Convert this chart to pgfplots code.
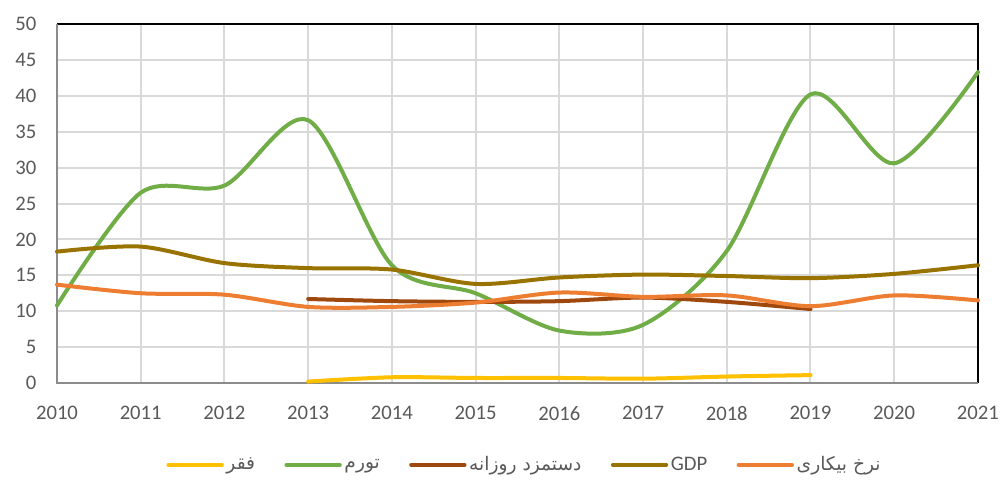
\documentclass[border=0pt]{standalone}
\usepackage{pgfplots}
\pgfplotsset{compat=1.18}
\usepackage{fontspec}
\setmainfont{Carlito}
\newfontfamily\fa[Script=Arabic]{DejaVu Sans}
\TeXXeTstate=1

\definecolor{cfaghr}{HTML}{FFC000}
\definecolor{ctavarom}{HTML}{70AD47}
\definecolor{cmozd}{HTML}{9E480E}
\definecolor{cgdp}{HTML}{997300}
\definecolor{cbikari}{HTML}{ED7D31}
\definecolor{cgrid}{HTML}{D9D9D9}
\definecolor{ctick}{HTML}{595959}

\newcommand{\fatext}[1]{{\fa\fontsize{14}{15}\selectfont\beginR #1\endR}}

\begin{document}
\begin{tikzpicture}
\path[use as bounding box] (0pt,0pt) rectangle (753pt,360pt);
\begin{axis}[
    at={(42.75pt,72.75pt)}, anchor=south west,
    width=690.75pt, height=269.25pt,
    scale only axis,
    xmin=2010, xmax=2021,
    ymin=0, ymax=50,
    xtick={2010,...,2021},
    ytick={0,5,...,50},
    xticklabel style={/pgf/number format/1000 sep={}, yshift=-14pt},
    yticklabel style={xshift=-12pt},
    /pgf/number format/assume math mode=true,
    tick label style={font=\fontsize{15.5}{16}\selectfont, text=ctick},
    grid=major,
    major grid style={cgrid, line width=1.5pt},
    tick style={draw=none},
    axis line style={draw=none},
    clip=false,
    every axis plot/.append style={smooth, tension=0.5, line width=3pt, line cap=round},
    legend columns=5,
    legend style={at={(axis description cs:0.508,-0.228)}, anchor=center,
        draw=none, fill=none, font=\fontsize{15.5}{16}\selectfont, text=ctick,
        /tikz/every even column/.append style={column sep=20pt}},
    legend image code/.code={\draw[#1, line width=3pt, sharp plot] (0pt,0pt) -- (40pt,0pt);},
]
% frame
\draw[black, line width=1.6pt] (rel axis cs:0,1) -- (rel axis cs:1,1) -- (rel axis cs:1,0);
\draw[gray!90, line width=1.8pt] (rel axis cs:0,1) -- (rel axis cs:0,0) -- (rel axis cs:1,0);

\addplot[cfaghr] coordinates {
    (2013,0.2) (2014,0.8) (2015,0.7) (2016,0.7) (2017,0.6) (2018,0.9) (2019,1.1)};
\addlegendentry{\fatext{فقر}}
\addplot[ctavarom] coordinates {
    (2010,10.8) (2011,26.5) (2012,27.5) (2013,36.6) (2014,16.4) (2015,12.5)
    (2016,7.3) (2017,8.1) (2018,18.4) (2019,40.2) (2020,30.6) (2021,43.3)};
\addlegendentry{\fatext{تورم}}
\addplot[cmozd] coordinates {
    (2013,11.7) (2014,11.4) (2015,11.3) (2016,11.4) (2017,11.9) (2018,11.3) (2019,10.3)};
\addlegendentry{\fatext{دستمزد روزانه}}
\addplot[cgdp] coordinates {
    (2010,18.3) (2011,19.0) (2012,16.7) (2013,16.0) (2014,15.8) (2015,13.8)
    (2016,14.7) (2017,15.1) (2018,14.9) (2019,14.6) (2020,15.2) (2021,16.4)};
\addlegendentry{GDP}
\addplot[cbikari] coordinates {
    (2010,13.7) (2011,12.5) (2012,12.3) (2013,10.6) (2014,10.6) (2015,11.2)
    (2016,12.6) (2017,12.0) (2018,12.2) (2019,10.7) (2020,12.2) (2021,11.5)};
\addlegendentry{\fatext{نرخ بیکاری}}
\end{axis}
\end{tikzpicture}
\end{document}
